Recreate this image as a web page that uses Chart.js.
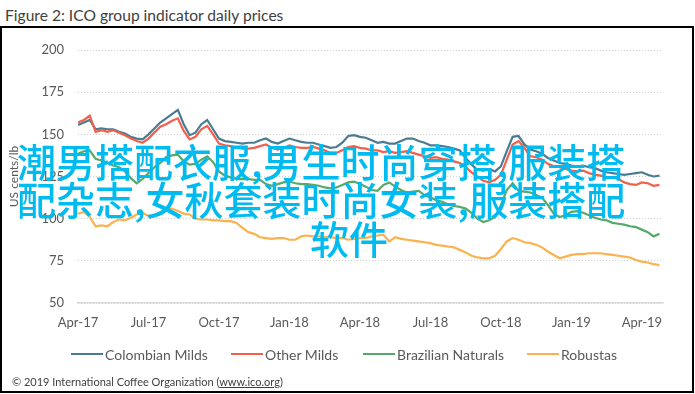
<!DOCTYPE html>
<html>
<head>
<meta charset="utf-8">
<script src="https://cdn.jsdelivr.net/npm/chart.js@4.4.0/dist/chart.umd.min.js"></script>
<style>
  html, body { margin: 0; padding: 0; background: #fff; }
  body { width: 695px; height: 394px; position: relative; overflow: hidden; font-family: Lato, "Open Sans", sans-serif; }
  #title { position: absolute; left: 5px; top: 5px; font-size: 15.6px; line-height: 20px; color: #404040; white-space: nowrap; }
  #frame { position: absolute; left: 0; top: 26px; width: 694px; height: 367px; border: 2px solid #000; box-sizing: border-box; }
  #chart { position: absolute; left: 0; top: 0; }
  #legend { position: absolute; left: 0; top: 346px; width: 695px; height: 16px; }
  .legend-item { position: absolute; top: 0; height: 16px; display: flex; align-items: center; font-size: 14px; color: #595959; white-space: nowrap; }
  .legend-line { width: 32px; height: 2px; margin-right: 2px; }
  #footer { position: absolute; left: 12px; top: 375px; font-size: 11px; line-height: 14px; color: #404040; white-space: nowrap; }
  #footer u { text-decoration: underline; }
  .watermark { position: absolute; font-family: "Noto Sans CJK SC", sans-serif; font-size: 39px; line-height: 39px; font-weight: 500; color: #00bbf0; white-space: nowrap; }
</style>
</head>
<body>
<div id="title">Figure 2: ICO group indicator daily prices</div>
<div id="frame"></div>
<canvas id="chart" width="695" height="394"></canvas>
<div id="legend"></div>
<div id="footer">© 2019 International Coffee Organization (<u>www.ico.org</u>)</div>
<div class="watermark" style="left:17px; top:141px;">潮男搭配衣服,男生时尚穿搭,服装搭</div>
<div class="watermark" style="left:17px; top:179px;">配杂志,女秋套装时尚女装,服装搭配</div>
<div class="watermark" style="left:310px; top:218px;">软件</div>
<script>
// weekly observations, x = months since Apr-17
const weekOffsets = Array.from({ length: 100 }, (_, i) => i / 4);
const xTickLabels = ['Apr-17', 'Jul-17', 'Oct-17', 'Jan-18', 'Apr-18', 'Jul-18', 'Oct-18', 'Jan-19', 'Apr-19'];
const yTicks = [50, 75, 100, 125, 150, 175, 200];

const seriesNames = ['Colombian Milds', 'Other Milds', 'Brazilian Naturals', 'Robustas'];
const seriesColors = ['#4b7b92', '#f2604b', '#56a96b', '#fbb24e'];

const colombianMilds = [
  155.5, 157, 158.5, 153, 153.5, 153, 153, 151.5, 150.5, 148.5,
  147.5, 147, 150, 153.5, 157, 159.5, 162, 164.5, 156, 149.5,
  151, 156, 158.5, 153, 147.5, 146, 145.5, 145, 144.5, 145,
  145, 146.5, 147.5, 145.5, 144.5, 146, 147.5, 146.5, 145.5, 145,
  145, 144, 143, 142, 142.5, 145, 149, 149.5, 148.5, 148,
  146.5, 145, 145.5, 144.5, 144.5, 146, 147.5, 147.5, 146, 145,
  143.5, 143.5, 143, 142.5, 141.5, 140.5, 136, 132, 129, 128.5,
  129.5, 128, 131, 140, 148.5, 149, 144, 141, 140, 138.5,
  136, 134.5, 133, 132.5, 131.5, 131, 131.5, 130.5, 130, 128.5,
  127.5, 127, 126.5, 126, 126.5, 127, 127.5, 126, 125, 125.5
];
const otherMilds = [
  157, 158.5, 161, 151.5, 152.5, 151.5, 152.5, 151, 149.5, 147.5,
  146, 145, 147.5, 151, 154.5, 156, 158, 159.5, 152, 147,
  148.5, 153, 155, 150, 144.5, 143.5, 143, 142, 141.5, 141.5,
  142, 143, 144, 142, 141, 142, 143.5, 142.5, 142, 142,
  142.5, 141.5, 140.5, 139, 139, 140.5, 142.5, 143, 142, 141.5,
  140.5, 140.5, 139.5, 140, 139, 139.5, 140, 139, 138, 137,
  136, 136.5, 135.5, 135, 134, 133, 130.5, 127.5, 125, 122.5,
  121.5, 123, 126, 135, 144, 146, 142, 137, 136.5, 135,
  132.5, 131, 130.5, 129.5, 128.5, 128, 128.5, 127, 126, 125.5,
  124.5, 124.5, 123.5, 121.5, 120.5, 120, 121.5, 121, 119.5, 120
];
const brazilianNaturals = [
  138.5, 140, 140.5, 135.5, 134.5, 133, 131.5, 130.5, 128, 124,
  121, 123.5, 127, 130.5, 133, 136.5, 137.5, 138, 134, 132,
  132.5, 135, 137, 133.5, 128, 125.5, 124.5, 123.5, 123.5, 123.5,
  123, 123, 120.5, 119.5, 120.5, 121.5, 122, 121, 120.5, 120.5,
  120, 119.5, 118.5, 118, 118.5, 120, 121.5, 122, 120.5, 119,
  117, 116.5, 120, 121.5, 119, 117, 115.5, 116, 116.5, 114,
  112.5, 111, 110, 108.5, 107.5, 107, 106, 103.5, 100, 98,
  99, 101, 108, 117, 121, 116.5, 116, 115.5, 114, 112.5,
  108, 103, 101, 102, 104, 104.5, 103.5, 102, 100.5, 99.5,
  99, 97.5, 97, 96.5, 95.5, 95, 93.5, 92, 89.5, 91
];
const robustas = [
  103, 104, 101, 95.5, 96, 95.5, 98, 99.5, 99, 100.5,
  102.5, 103.5, 101.5, 102, 104, 105, 106, 104.5, 103, 102.5,
  100, 99.5, 99.5, 99, 99, 98.5, 98.5, 97.5, 94.5, 92,
  91, 89, 88.5, 88, 88.5, 88.5, 87.5, 87.5, 89.5, 90,
  89.5, 89.5, 89, 89, 88.5, 88.5, 87.5, 88, 88.5, 88.5,
  89.5, 90, 90.5, 86.5, 89, 88, 87.5, 87, 86.5, 86,
  85.5, 84.5, 84, 83.5, 83, 81.5, 80, 78, 77, 76.5,
  76.5, 78, 82, 86.5, 88.5, 87.5, 86, 85.5, 84.5, 83,
  80.5, 78.5, 76.5, 77.5, 78.5, 79, 79, 79.5, 79.5, 79.5,
  79, 78.5, 78, 77.5, 77, 75.5, 74.5, 74, 73, 72.5
];

const seriesValues = [colombianMilds, otherMilds, brazilianNaturals, robustas];

// Excel draws later series on top
const datasets = seriesNames.map((name, s) => ({
  label: name,
  data: seriesValues[s].map((v, i) => ({ x: weekOffsets[i], y: v })),
  borderColor: seriesColors[s],
  backgroundColor: seriesColors[s],
  borderWidth: 2.2,
  pointRadius: 0,
  tension: 0,
  fill: false,
  order: seriesNames.length - s
}));

// legend built from the same names/colours
const legendPos = [71, 231, 363, 527];
const legend = document.getElementById('legend');
seriesNames.forEach((name, s) => {
  const item = document.createElement('div');
  item.className = 'legend-item';
  item.style.left = legendPos[s] + 'px';
  item.innerHTML = `<span class="legend-line" style="background:${seriesColors[s]}"></span>${name}`;
  legend.appendChild(item);
});

const tickFont = { family: 'Lato', size: 13 };

new Chart(document.getElementById('chart'), {
  type: 'line',
  data: { datasets: datasets },
  options: {
    responsive: false,
    animation: false,
    layout: { padding: { left: 3, right: 32, top: 50, bottom: 0 } },
    plugins: {
      legend: { display: false },
      tooltip: { enabled: false }
    },
    scales: {
      x: {
        type: 'linear',
        min: 0,
        max: 24.9,
        grid: { display: false, drawTicks: false },
        border: { display: true, color: '#d9d9d9', width: 1.5 },
        ticks: {
          stepSize: 3,
          includeBounds: false,
          autoSkip: false,
          maxRotation: 0,
          padding: 12,
          color: '#595959',
          font: tickFont,
          callback: value => (value % 3 === 0 ? xTickLabels[value / 3] : '')
        },
        afterFit: scale => { scale.height = 394 - 303; }
      },
      y: {
        min: yTicks[0],
        max: yTicks[yTicks.length - 1],
        grid: { color: '#d0d0d0', lineWidth: 1, drawTicks: false },
        border: { display: false, dash: [1, 2] },
        ticks: {
          stepSize: 25,
          padding: 14,
          color: '#595959',
          font: tickFont
        },
        title: {
          display: true,
          text: 'US cents/lb',
          color: '#595959',
          font: { family: 'Lato', size: 12 },
          padding: { top: 4, bottom: 0 }
        },
        afterFit: scale => { scale.width = 78 - 3; }
      }
    }
  }
});
</script>
</body>
</html>
